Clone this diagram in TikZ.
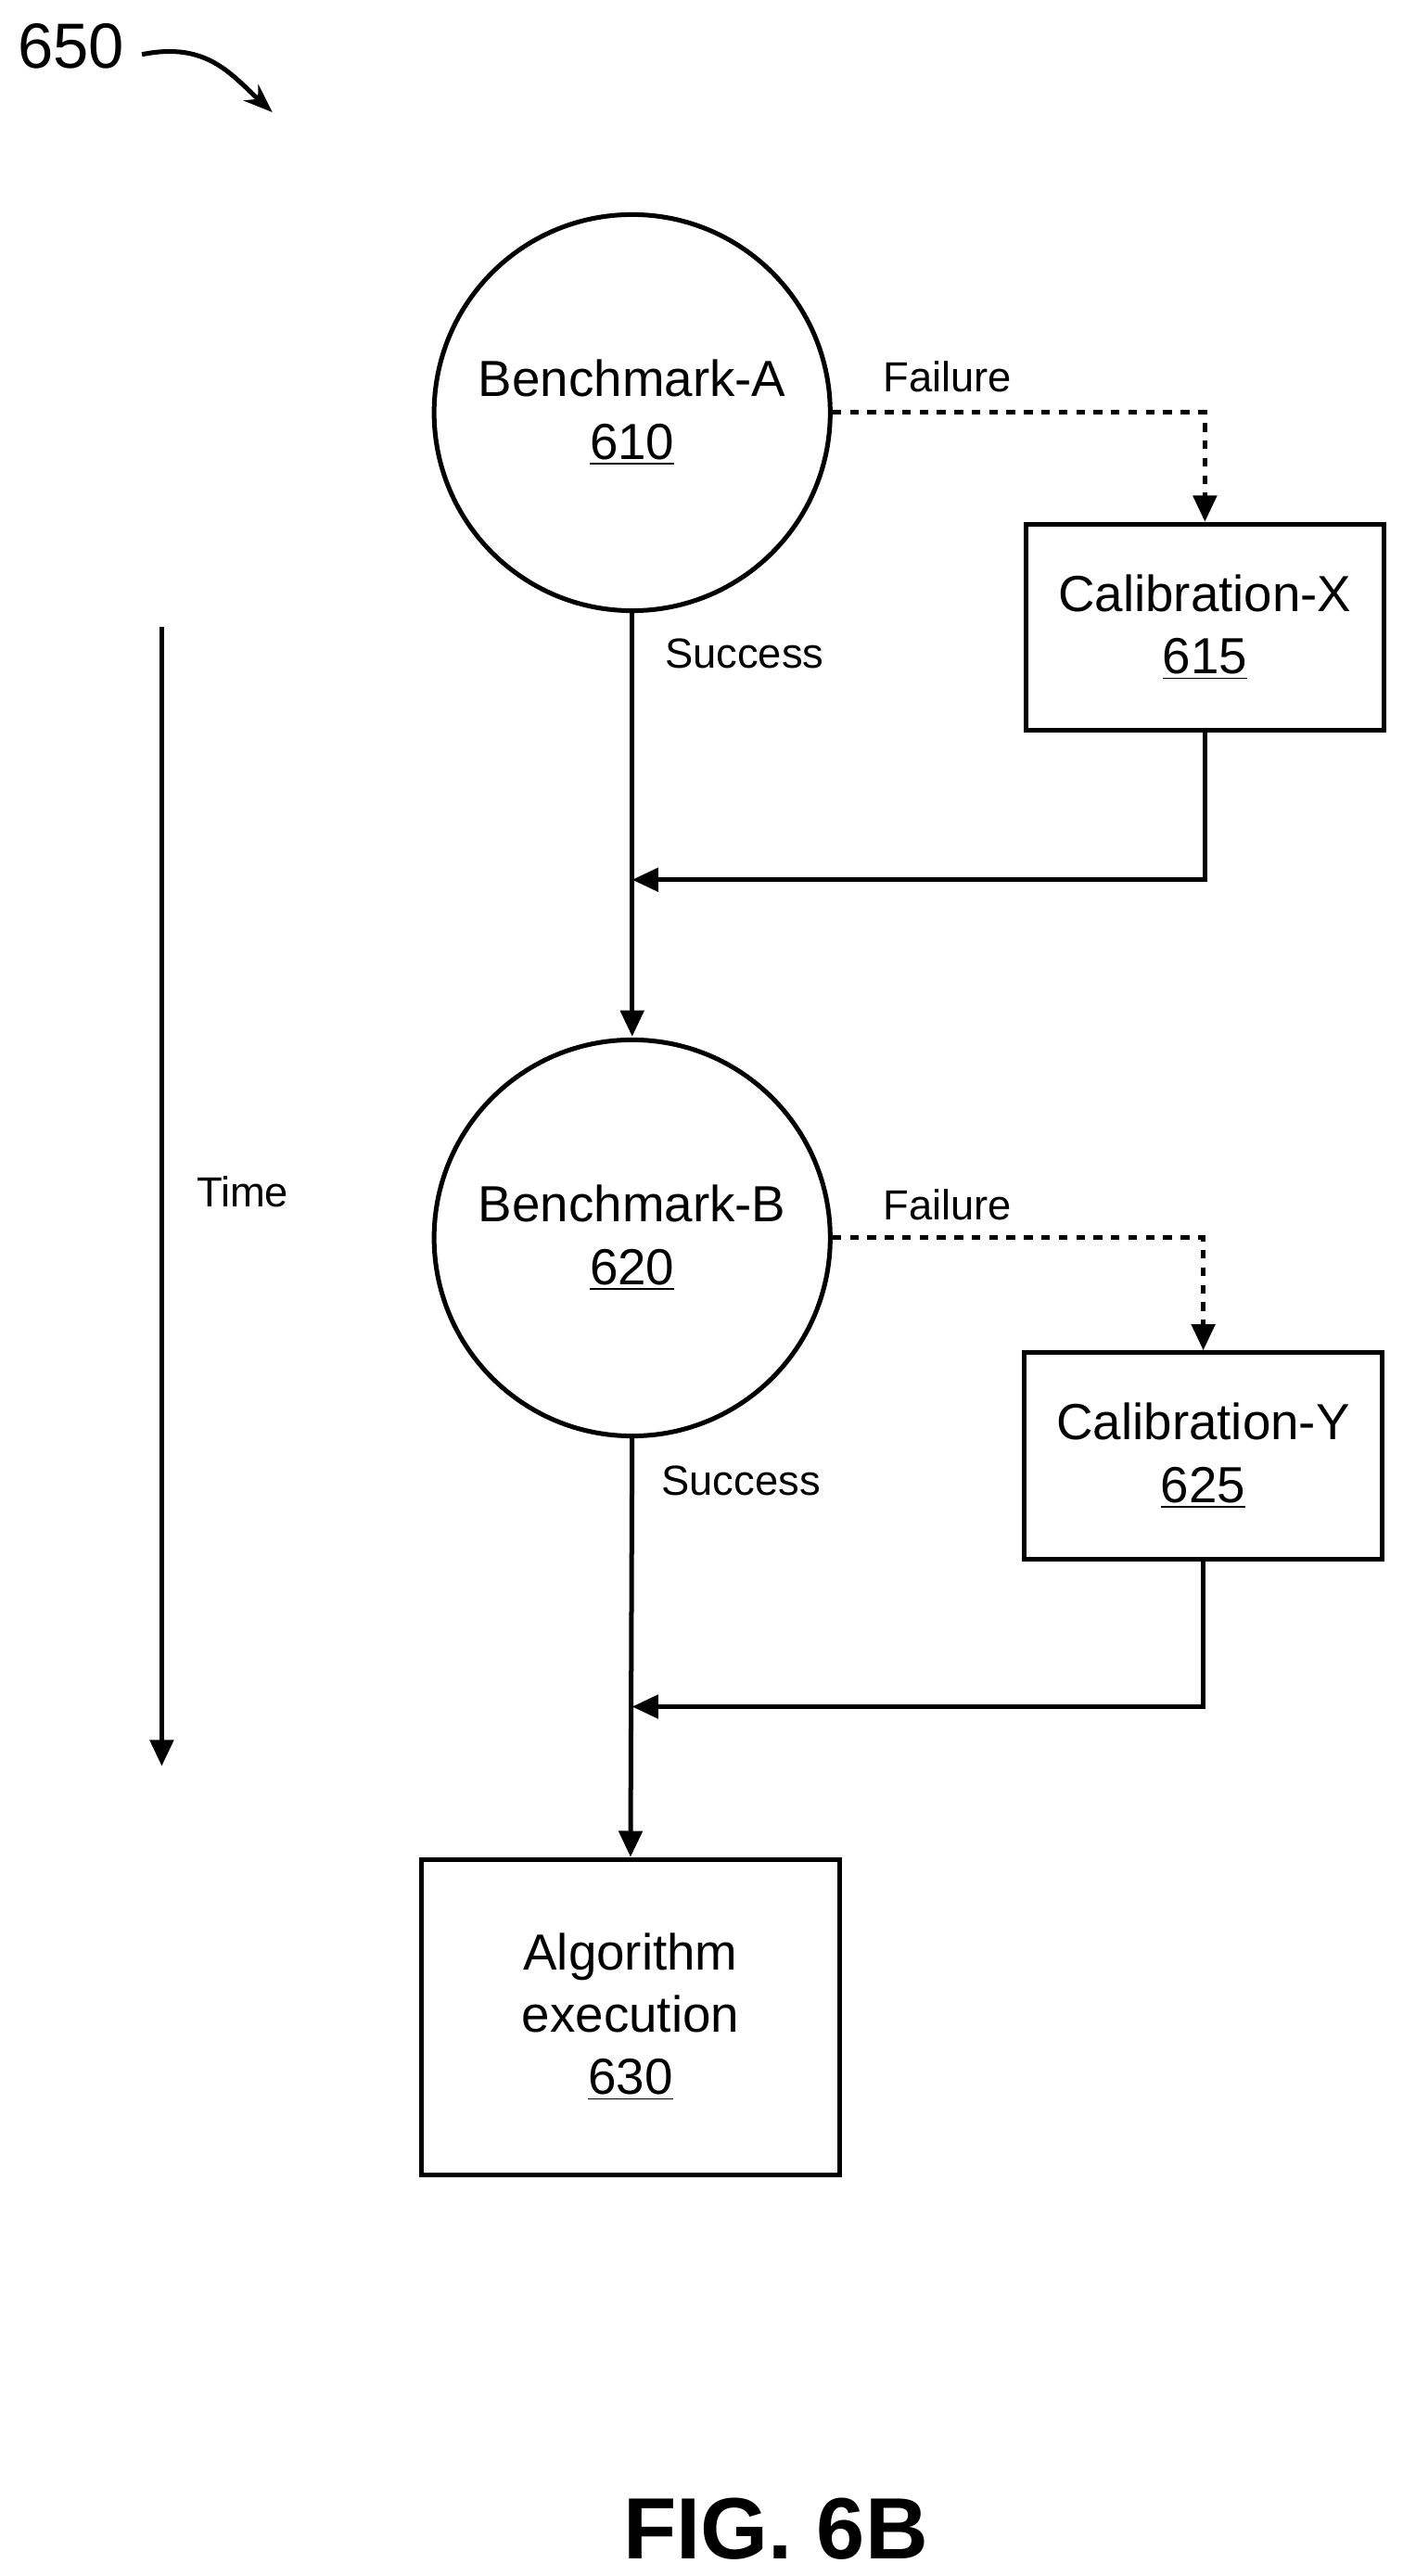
\documentclass[tikz,border=0pt]{standalone}
\usepackage{fontspec}
\setmainfont{Liberation Sans}
\usetikzlibrary{arrows.meta}
\begin{document}
\begin{tikzpicture}[x=0.02cm,y=-0.02cm,line width=1.6pt,
  bench/.style={draw,circle,minimum size=240*0.02cm,inner sep=0pt,align=center,font=\fontsize{17.5}{21.5}\selectfont},
  calib/.style={draw,minimum width=217*0.02cm,minimum height=125*0.02cm,align=center,font=\fontsize{17.5}{21.5}\selectfont},
  lbl/.style={font=\fontsize{14.5}{17}\selectfont},
  flow/.style={-{Triangle[length=9pt,width=8pt]}}]
\useasboundingbox (0,0) rectangle (850,1560.7);

\node (n650) at (43,28) {\fontsize{22}{24}\selectfont 650};
\draw[-{Stealth[length=10pt]}] (86,33) .. controls (125,25) and (140,45) .. (165,68);

% benchmark A and calibration X
\node[bench] (bA) at (383,250) {Benchmark-A\\\underline{610}};
\node[calib] (cX) at (730,380) {Calibration-X\\\underline{615}};
\coordinate (mA) at (383,533);
\draw[dashed,flow] (bA.east) -| (cX.north);
\node[lbl] at (574,228) {Failure};
\draw[flow] (bA.south) -- (383,628);
\node[lbl] at (451,396) {Success};
\draw[flow] (cX.south) |- (mA);

% benchmark B and calibration Y
\node[bench] (bB) at (383,750) {Benchmark-B\\\underline{620}};
\node[calib] (cY) at (729,882) {Calibration-Y\\\underline{625}};
\coordinate (mB) at (383,1034);
\draw[dashed,flow] (bB.east) -| (cY.north);
\node[lbl] at (574,730) {Failure};
\node[lbl] at (449,897) {Success};
\draw[flow] (cY.south) |- (mB);

\node[draw,minimum width=253*0.02cm,minimum height=191*0.02cm,align=center,font=\fontsize{17.5}{21.5}\selectfont] (alg) at (382,1222) {Algorithm\\execution\\\underline{630}};
\draw[flow] (bB.south) -- (alg.north);

% time axis
\coordinate (t0) at (98,380);
\coordinate (t1) at (98,1070);
\draw[flow] (t0) -- (t1);
\node[lbl] at (147,722) {Time};

\node[font=\fontsize{30}{32}\selectfont\bfseries] (fig) at (470,1532) {FIG. 6B};
\end{tikzpicture}
\end{document}
